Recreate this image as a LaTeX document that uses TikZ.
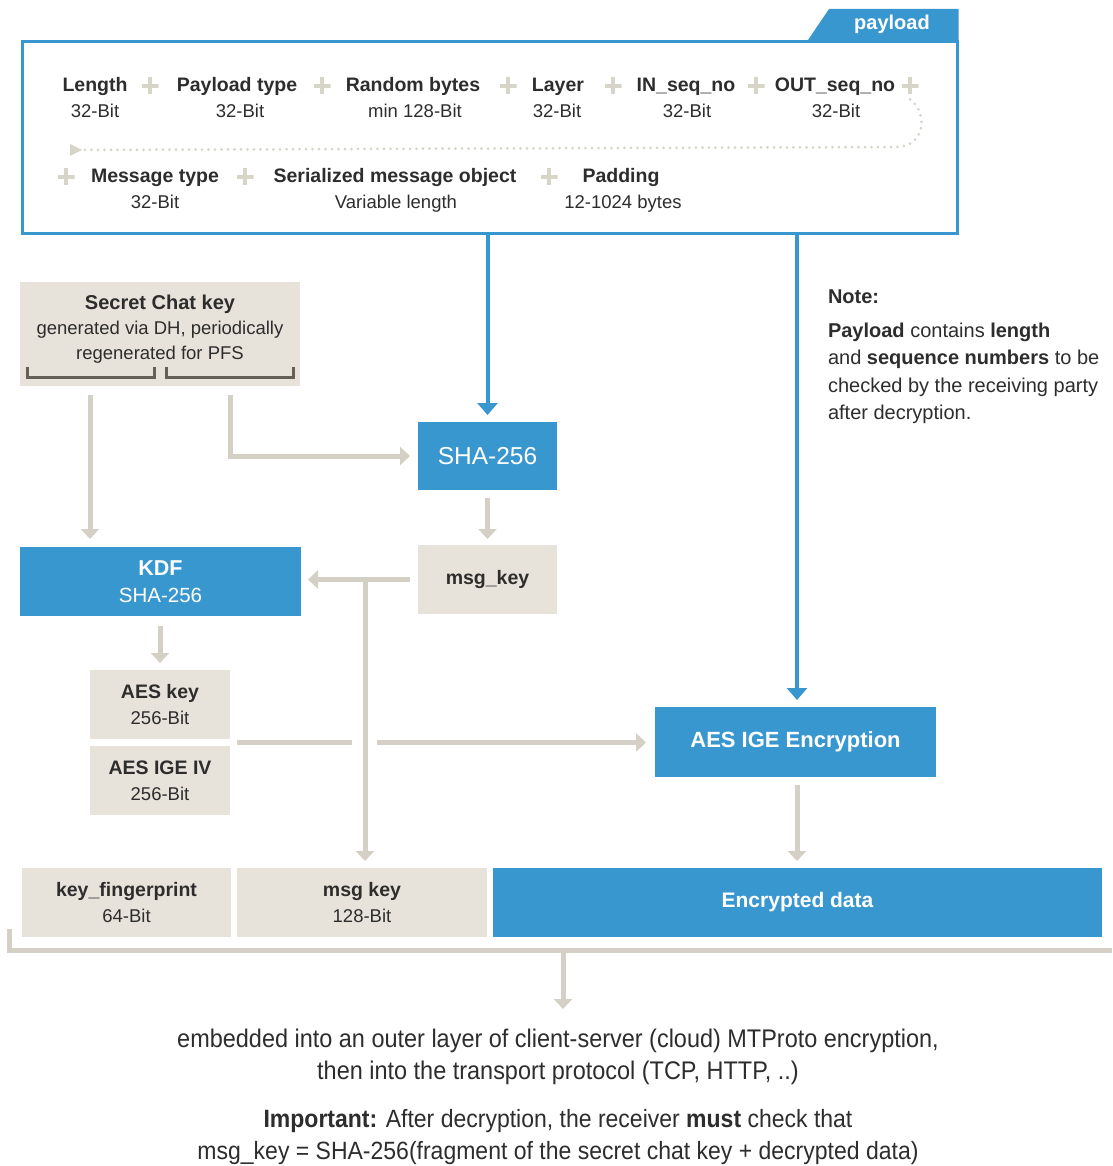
\documentclass[tikz,border=0pt]{standalone}
\usepackage{fontspec}
\setmainfont{Liberation Sans}
\newfontfamily\condfont[FakeStretch=0.92]{Liberation Sans}
\usetikzlibrary{arrows.meta,calc}
\definecolor{blueC}{RGB}{57,151,207}
\definecolor{beige}{RGB}{232,227,218}
\definecolor{arrowg}{RGB}{213,208,197}
\definecolor{txt}{RGB}{45,45,45}
\definecolor{plusc}{RGB}{215,212,200}
\definecolor{brk}{RGB}{100,96,86}
\newcommand\fsz[2]{\fontsize{#1}{#2}\selectfont}
\begin{document}
\begin{tikzpicture}[x=1pt,y=-1pt,
  every node/.style={inner sep=0pt, outer sep=0pt, text=txt},
  fname/.style={anchor=base, font=\fsz{19.5}{22}\bfseries},
  fsub/.style={anchor=base, font=\fsz{18.5}{22}},
  plussign/.style={minimum size=17pt, path picture={
     \draw[plusc, line width=3.5pt] (path picture bounding box.north) -- (path picture bounding box.south)
       (path picture bounding box.west) -- (path picture bounding box.east);}},
  box/.style={rectangle, align=center, font=\fsz{18.5}{26}},
  beigebox/.style={box, fill=beige},
  bluebox/.style={box, fill=blueC, text=white},
  garrow/.style={draw=arrowg, line width=5pt, -{Triangle[width=18pt,length=10pt]}},
  gline/.style={draw=arrowg, line width=5pt},
  barrow/.style={draw=blueC, line width=4pt, -{Triangle[width=20pt,length=12pt]}},
  dotline/.style={draw=plusc, line width=3pt, line cap=round, dash pattern=on 0pt off 6.5pt},
  bracket/.style={draw=brk, line width=3pt},
]
\fill[white] (0,0) rectangle (1112,1166);
\useasboundingbox (0,0) rectangle (1112,1166);

% ---------------- payload box
\node[draw=blueC, line width=3pt, minimum width=935pt, minimum height=192pt] (pl) at (489.5,138) {};
\fill[blueC] (806,43) -- (829,9) -- (958.5,9) -- (958.5,43) -- cycle;
\node[anchor=base, text=white, font=\fsz{20}{22}\bfseries] (plt) at (892,30) {payload};

% row 1
\node[fname] (n1) at (95,92) {Length};
\node[fsub]  (s1) at (95,118) {32-Bit};
\node[plussign] (p1) at (150,86) {};
\node[fname] (n2) at (237,92) {Payload type};
\node[fsub]  (s2) at (240,118) {32-Bit};
\node[plussign] (p2) at (322,86) {};
\node[fname] (n3) at (413,92) {Random bytes};
\node[fsub]  (s3) at (415,118) {min 128-Bit};
\node[plussign] (p3) at (508,86) {};
\node[fname] (n4) at (558,92) {Layer};
\node[fsub]  (s4) at (557,118) {32-Bit};
\node[plussign] (p4) at (613,86) {};
\node[fname] (n5) at (686,92) {IN\_seq\_no};
\node[fsub]  (s5) at (687,118) {32-Bit};
\node[plussign] (p5) at (756,86) {};
\node[fname] (n6) at (835,92) {OUT\_seq\_no};
\node[fsub]  (s6) at (836,118) {32-Bit};
\node[plussign] (p6) at (910,86) {};

% row 2
\node[plussign] (q1) at (66,177) {};
\node[fname] (m1) at (155,183) {Message type};
\node[fsub]  (t1) at (155,209) {32-Bit};
\node[plussign] (q2) at (245,177) {};
\node[fname] (m2) at (395,183) {Serialized message object};
\node[fsub]  (t2) at (396,209) {Variable length};
\node[plussign] (q3) at (549,177) {};
\node[fname] (m3) at (621,183) {Padding};
\node[fsub]  (t3) at (623,209) {12-1024 bytes};

% dotted continuation
\coordinate (dl) at (72,150);
\draw[dotline] ([yshift=-5pt]p6.south) .. controls (928,112) and (926,147) .. (896,147) -- ([xshift=10pt]dl);
\fill[plusc] (dl) ++(-2,-6) -- ++(12,6) -- ++(-12,6) -- cycle;

% ---------------- left column
\node[beigebox, minimum width=280pt, minimum height=104pt] (sck) at (160,334) {};
\node[align=center, font=\fsz{18.5}{25}] (sckt) at (160,329.5)
  {{\fsz{20}{25}\bfseries Secret Chat key}\\generated via DH, periodically\\regenerated for PFS};
\draw[bracket] (27,367) -- (27,377) -- (154,377) -- (154,367);
\draw[bracket] (166,367) -- (166,377) -- (293,377) -- (293,367);

\node[bluebox, minimum width=281pt, minimum height=69pt, font=\fsz{20.5}{27}] (kdf) at (160.5,581.5)
  {{\fsz{21.5}{27}\bfseries KDF}\\SHA-256};
\node[bluebox, minimum width=139pt, minimum height=68pt, font=\fsz{24.5}{26}] (sha) at (487.5,456) {SHA-256};
\node[beigebox, minimum width=139pt, minimum height=69pt, font=\fsz{19.5}{26}\bfseries] (mk) at (487.5,579.5) {msg\_key};

\node[beigebox, minimum width=140pt, minimum height=69pt] (aesk) at (160,704.5) {{\fsz{19.5}{26}\bfseries AES key}\\256-Bit};
\node[beigebox, minimum width=140pt, minimum height=69pt] (iv) at (160,780.5) {{\fsz{19.5}{26}\bfseries AES IGE IV}\\256-Bit};

\node[bluebox, minimum width=281pt, minimum height=70pt, font=\fsz{22}{26}\bfseries] (enc) at (795.5,742) {AES IGE Encryption};

\node[beigebox, minimum width=209pt, minimum height=69pt] (kf) at (126.5,902.5) {{\fsz{19.5}{26}\bfseries key\_fingerprint}\\64-Bit};
\node[beigebox, minimum width=250pt, minimum height=69pt] (mk2) at (362,902.5) {{\fsz{19.5}{26}\bfseries msg key}\\128-Bit};
\node[bluebox, minimum width=609pt, minimum height=69pt, font=\fsz{21}{26}\bfseries] (ed) at (797.5,902.5) {Encrypted data};

% ---------------- note
\node[anchor=north west, align=left, font=\fsz{20}{27.5}] (note) at (828,290)
  {{\bfseries Note:}\\[6pt]
   {\bfseries Payload} contains {\bfseries length}\\
   and {\bfseries sequence numbers} to be\\
   checked by the receiving party\\
   after decryption.};

% ---------------- connectors
\draw[barrow] (pl.south -| sha) -- ([yshift=7pt]sha.north);
\coordinate (bx) at (797,0);
\draw[barrow] (pl.south -| bx) -- ([yshift=7pt]enc.north -| bx);

\coordinate (c1) at (90,395);
\draw[garrow, shorten >=8pt] (c1) -- (c1 |- kdf.north);
\coordinate (c2) at (230,395);
\draw[garrow, shorten >=8pt] (c2) |- (sha.west);
\draw[garrow, shorten <=8pt, shorten >=6pt] (sha.south) -- (mk.north);
\draw[garrow, shorten <=8pt, shorten >=7pt] (mk.west) -- (mk.west -| kdf.east);
\coordinate (jx) at (365,0);
\coordinate (j) at (jx |- mk.west);
\draw[garrow, shorten >=7pt] (j) -- (j |- mk2.north);
\draw[garrow, shorten <=10pt, shorten >=7pt] (kdf.south -| aesk) -- (aesk.north);
\coordinate (kk) at ($(aesk.south east)!0.5!(iv.north east)$);
\draw[gline] ([xshift=7pt]kk) -- ($(j |- kk)+(-13,0)$);
\draw[garrow, shorten >=9pt] ($(j |- kk)+(12,0)$) -- (enc.west |- kk);
\coordinate (ex) at (797,0);
\draw[garrow, shorten <=8pt, shorten >=7pt] (enc.south -| ex) -- (ed.north -| ex);

% bottom bracket and outgoing arrow
\coordinate (bl) at (9,929);
\coordinate (bc) at (563,950);
\draw[gline] (bl) -- (bl |- bc) -- (1112,950);
\draw[garrow] ([yshift=-3pt]bc) -- ++(0,56);

% ---------------- bottom text
\node[align=center, font=\condfont\fsz{25.5}{32}] (bt1) at (558,1057)
  {embedded into an outer layer of client-server (cloud) MTProto encryption,\\
   then into the transport protocol (TCP, HTTP, ..)};
\node[align=center, font=\condfont\fsz{25}{32}] (bt2) at (558,1137)
  {{\bfseries Important:} After decryption, the receiver {\bfseries must} check that\\
   msg\_key = SHA-256(fragment of the secret chat key + decrypted data)};
\end{tikzpicture}
\end{document}
